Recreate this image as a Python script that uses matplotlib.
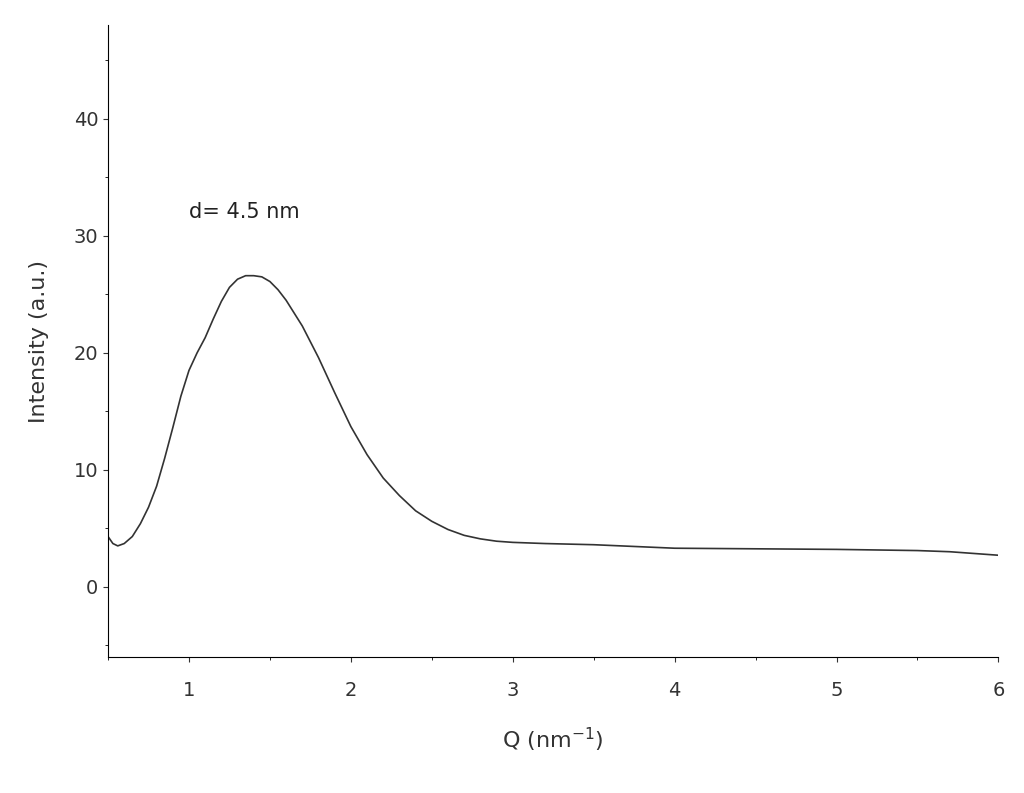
import matplotlib
matplotlib.use("Agg")
import matplotlib.pyplot as plt
from matplotlib.ticker import MultipleLocator

q = [0.5, 0.53, 0.56, 0.6, 0.65, 0.7, 0.75, 0.8, 0.85, 0.9, 0.95, 1.0, 1.05,
     1.1, 1.15, 1.2, 1.25, 1.3, 1.35, 1.4, 1.45, 1.5, 1.55, 1.6, 1.7, 1.8,
     1.9, 2.0, 2.1, 2.2, 2.3, 2.4, 2.5, 2.6, 2.7, 2.8, 2.9, 3.0, 3.2, 3.5,
     4.0, 4.5, 5.0, 5.5, 5.7, 6.0]
intensity = [4.3, 3.7, 3.5, 3.7, 4.3, 5.4, 6.8, 8.6, 11.0, 13.6, 16.3, 18.5,
             20.0, 21.3, 22.9, 24.4, 25.6, 26.3, 26.6, 26.6, 26.5, 26.1, 25.4,
             24.5, 22.3, 19.6, 16.6, 13.7, 11.3, 9.3, 7.8, 6.5, 5.6, 4.9, 4.4,
             4.1, 3.9, 3.8, 3.7, 3.6, 3.3, 3.25, 3.2, 3.1, 3.0, 2.7]

fig = plt.figure(figsize=(10.24, 7.93), dpi=100)
ax = fig.add_axes([0.1055, 0.1715, 0.8695, 0.7965])
ax.plot(q, intensity, color="#333333", lw=1.2)
ax.set_xlim(0.5, 6)
ax.set_ylim(-6, 48)
ax.spines["top"].set_visible(False)
ax.spines["right"].set_visible(False)
ax.xaxis.set_major_locator(MultipleLocator(1))
ax.xaxis.set_minor_locator(MultipleLocator(0.5))
ax.yaxis.set_major_locator(MultipleLocator(10))
ax.yaxis.set_minor_locator(MultipleLocator(5))
ax.tick_params(labelsize=14, colors="#333333")
ax.tick_params(axis="x", pad=14)
ax.set_xlabel("Q (nm$^{-1}$)", fontsize=16, color="#333333", labelpad=18)
ax.set_ylabel("Intensity (a.u.)", fontsize=16, color="#333333", labelpad=18)
ax.text(1.0, 31.5, "d= 4.5 nm", fontsize=15, color="#222222")
fig.savefig("out.png", dpi=100)
